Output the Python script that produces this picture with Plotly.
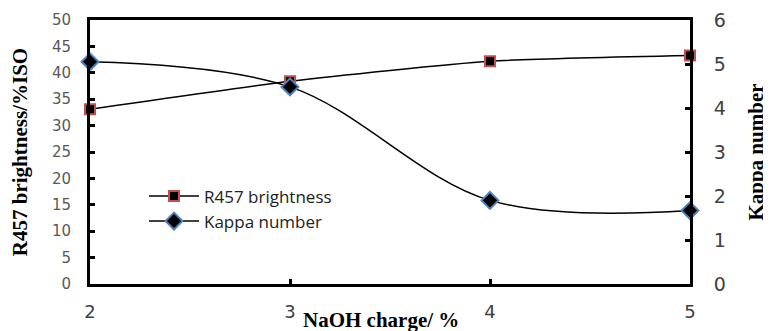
import plotly.graph_objects as go

naoh = [2, 3, 4, 5]
brightness = [33.1, 38.4, 42.2, 43.3]
kappa = [5.05, 4.48, 1.9, 1.67]
left_ticks = [0, 5, 10, 15, 20, 25, 30, 35, 40, 45, 50]
right_ticks = [0, 1, 2, 3, 4, 5, 6]
x_ticks = [2, 3, 4, 5]

sans = "DejaVu Sans, Open Sans, sans-serif"
serif = "Liberation Serif, Times New Roman, serif"

fig = go.Figure()
fig.add_trace(go.Scatter(
    x=naoh, y=brightness, name="R457 brightness", mode="lines+markers",
    line=dict(color="black", width=1.5, shape="spline", smoothing=0.6),
    marker=dict(symbol="square", size=10, color="black", line=dict(color="#c0504d", width=2)),
    cliponaxis=False, yaxis="y"))
fig.add_trace(go.Scatter(
    x=naoh, y=kappa, name="Kappa number", mode="lines+markers",
    line=dict(color="black", width=1.5, shape="spline", smoothing=1.0),
    marker=dict(symbol="diamond", size=13, color="black", line=dict(color="#4f81bd", width=2)),
    cliponaxis=False, yaxis="y2"))

fig.update_layout(
    width=763, height=323,
    margin=dict(l=82, r=81, t=12, b=47),
    paper_bgcolor="white", plot_bgcolor="white",
    showlegend=True,
    legend=dict(x=0.09, y=0.40, xanchor="left", yanchor="top",
                font=dict(family="Open Sans, sans-serif", size=17, color="#222"),
                bgcolor="rgba(0,0,0,0)", tracegroupgap=0, itemwidth=50),
    xaxis=dict(range=[2, 5], tickvals=x_ticks, ticks="inside", ticklen=5, tickwidth=3,
               tickcolor="black", showline=True, linewidth=3, linecolor="black", mirror=True,
               showgrid=False, zeroline=False,
               tickfont=dict(family=sans, size=18, color="#404040"), ticklabelstandoff=9,
               automargin=False),
    yaxis=dict(range=[0, 50], tickvals=left_ticks, ticks="inside", ticklen=5, tickwidth=3,
               tickcolor="black", showline=True, linewidth=3, linecolor="black",
               showgrid=False, zeroline=False,
               tickfont=dict(family=sans, size=15, color="#595959"), ticklabelstandoff=13,
               title=dict(text="<b>R457 brightness/%ISO</b>",
                          font=dict(family=serif, size=21, color="black"), standoff=20),
               automargin=False),
    yaxis2=dict(range=[0, 6], tickvals=right_ticks, overlaying="y", side="right",
                ticks="inside", ticklen=5, tickwidth=3, tickcolor="black",
                showline=True, linewidth=3, linecolor="black",
                showgrid=False, zeroline=False,
                tickfont=dict(family=sans, size=19, color="#404040"), ticklabelstandoff=17,
                title=dict(text="<b>Kappa number</b>",
                           font=dict(family=serif, size=21, color="black"), standoff=24),
                automargin=False),
    annotations=[dict(text="<b>NaOH charge/ %</b>", xref="paper", yref="paper",
                      x=0.485, y=0.0, yshift=-22, xanchor="center", yanchor="top",
                      showarrow=False, font=dict(family=serif, size=21, color="black"))],
)

fig.write_html("out.html")
